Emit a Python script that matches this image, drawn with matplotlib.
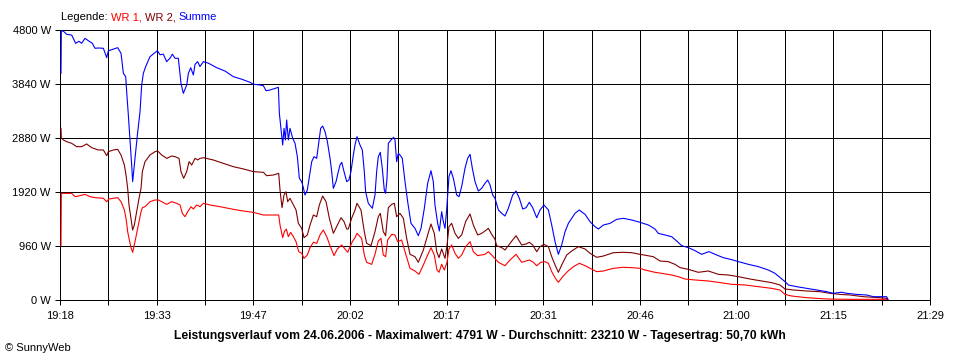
"""
SunnyWeb Leistungsverlauf 24.06.2006 - WR 1, WR 2 und Summe.
"""

import matplotlib
matplotlib.use("AGG")

import matplotlib.pyplot as plt
import numpy as np

# ── Data (minutes after 19:18, watts) ────────────────────────────────────────
SUM_T = [0.15, 0.20, 0.50, 1.00, 1.76, 2.36, 2.86, 3.26, 3.76, 4.27, 4.87, 5.27, 5.77,
         6.53, 7.03, 7.28, 8.03, 8.68, 9.19, 9.54, 9.89, 10.04, 10.29, 10.54, 10.79,
         10.94, 11.29, 11.65, 12.05, 12.30, 12.55, 12.90, 13.55, 14.31, 14.66, 15.06,
         15.56, 16.06, 16.57, 16.92, 17.32, 17.82, 18.22, 18.57, 19.08, 19.33, 19.68,
         20.08, 20.33, 20.73, 21.08, 21.59, 22.34, 23.59, 24.85, 26.10, 27.36, 28.61,
         29.11, 30.12, 30.62, 31.02, 31.62, 32.38, 32.88, 33.03, 33.38, 33.53, 33.73,
         33.93, 34.13, 34.38, 34.63, 35.04, 35.39, 35.74, 36.04, 36.39, 36.64, 36.89,
         37.24, 37.55, 37.90, 38.25, 38.65, 39.05, 39.25, 39.55, 39.91, 40.26, 40.66,
         40.91, 41.16, 41.56, 41.91, 42.16, 42.42, 42.77, 43.17, 43.51, 43.81, 44.17,
         44.42, 44.72, 45.17, 45.52, 45.82, 46.02, 46.42, 47.03, 47.43, 47.68, 47.93,
         48.23, 48.53, 48.83, 49.03, 49.24, 49.44, 49.84, 50.24, 50.44, 50.69, 50.94,
         51.19, 51.54, 51.95, 52.35, 52.85, 53.45, 53.95, 54.36, 54.86, 55.36, 55.86,
         56.21, 56.46, 56.87, 57.12, 57.47, 57.72, 57.97, 58.22, 58.57, 58.87, 59.23,
         59.73, 60.08, 60.48, 60.98, 61.38, 61.74, 62.09, 62.49, 62.99, 63.49, 63.99,
         64.40, 64.75, 65.15, 65.50, 66.01, 66.51, 67.01, 67.51, 68.16, 68.67, 69.17,
         69.67, 70.17, 70.67, 71.18, 71.78, 72.28, 72.88, 73.54, 74.04, 74.54, 75.04,
         75.54, 76.05, 76.55, 77.05, 77.55, 78.20, 79.06, 79.81, 80.56, 81.07, 81.82,
         82.82, 83.83, 84.83, 86.09, 87.34, 88.59, 89.59, 90.09, 91.10, 92.10, 92.86,
         93.61, 94.61, 95.62, 96.62, 97.72, 98.88, 99.88, 101.14, 102.14, 103.65,
         105.15, 106.66, 107.66, 109.17, 109.67, 110.92, 112.43, 113.93, 115.44,
         116.44, 117.70, 118.45, 119.96, 121.46, 122.47, 124.47, 124.72]
SUM_W = [4030, 4783, 4780, 4724, 4710, 4563, 4600, 4563, 4652, 4610, 4563, 4475, 4480,
         4475, 4308, 4430, 4460, 4486, 4385, 4030, 3970, 3703, 3289, 2845, 2400,
         2104, 2519, 2933, 3348, 3822, 4030, 4148, 4326, 4400, 4432, 4360,
         4370, 4237, 4300, 4370, 4297, 4297, 3852, 3674, 3822, 4030, 4130,
         4000, 4190, 4237, 4150, 4237, 4210, 4130, 4070, 3970, 3925, 3870,
         3835, 3822, 3810, 3722, 3733, 3763, 3781, 3319, 2933, 2756, 3052,
         2845, 3200, 2845, 3052, 2874, 2785, 2548, 2163, 2104, 1997, 1867,
         1955, 2193, 2459, 2548, 2518, 2874, 3052, 3093, 2992, 2815, 2518,
         2282, 1985, 2104, 2282, 2400, 2448, 2282, 2104, 2134, 2282, 2578,
         2756, 2904, 2756, 2667, 2282, 1926, 1719, 1630, 1867, 2282, 2548,
         2625, 2341, 1955, 1896, 2163, 2785, 2845, 2893, 2845, 2459, 2608,
         2578, 2518, 2104, 1748, 1363, 1274, 1143, 1274, 1630, 2074, 2299,
         2104, 1689, 1363, 1227, 1570, 1393, 1274, 1600, 2193, 2299, 2163,
         1867, 1837, 2015, 2341, 2518, 2590, 2341, 2104, 1937, 1985, 2074,
         2133, 2045, 1867, 1808, 1600, 1541, 1493, 1630, 1867, 1937, 1808,
         1618, 1640, 1737, 1640, 1463, 1600, 1689, 1600, 1333, 1037, 812,
         978, 1215, 1363, 1452, 1541, 1600, 1522, 1393, 1304, 1262, 1333,
         1363, 1434, 1452, 1422, 1381, 1333, 1262, 1185, 1156, 1126, 1049,
         966, 931, 877, 812, 860, 800, 753, 717, 682, 634,
         593, 533, 474, 326, 267, 237, 207, 178, 148,
         119, 138, 119, 100, 89, 59, 59, 0]

WR2_T = [0.15, 0.20, 0.50, 1.00, 1.76, 2.51, 3.26, 4.02, 4.77, 5.77, 6.53, 7.03, 7.28,
         8.03, 8.68, 9.19, 9.69, 9.94, 10.19, 10.39, 10.69, 10.94, 11.19, 11.55, 11.90,
         12.20, 12.40, 12.80, 13.55, 14.31, 14.71, 15.31, 16.06, 16.82, 17.32, 17.92,
         18.22, 18.62, 19.08, 19.43, 19.83, 20.33, 20.73, 21.08, 21.59, 23.09, 24.59,
         26.10, 27.61, 29.11, 30.62, 31.12, 32.12, 32.93, 33.13, 33.43, 33.73, 34.03,
         34.28, 34.63, 35.14, 35.54, 35.89, 36.39, 36.74, 37.24, 37.65, 38.15, 38.65,
         39.05, 39.55, 40.06, 40.56, 41.16, 41.66, 42.31, 42.77, 43.17, 43.41, 43.91,
         44.42, 44.72, 45.32, 45.82, 46.17, 46.83, 47.43, 47.93, 48.23, 48.68, 49.03,
         49.44, 49.94, 50.34, 50.69, 51.19, 51.70, 52.20, 52.70, 53.45, 53.95, 54.71,
         55.36, 55.86, 56.36, 56.72, 57.07, 57.47, 57.97, 58.27, 58.57, 58.97, 59.48,
         59.98, 60.48, 61.08, 61.74, 62.24, 62.89, 63.49, 63.99, 64.50, 65.00, 65.50,
         65.75, 66.51, 67.01, 67.76, 68.67, 69.52, 70.17, 70.67, 71.18, 71.78, 72.28,
         72.88, 73.54, 74.04, 74.54, 75.04, 75.54, 76.30, 77.05, 78.05, 79.06, 79.81,
         80.81, 81.82, 83.32, 84.83, 86.09, 87.34, 89.34, 90.35, 91.60, 92.60, 93.36,
         94.61, 96.12, 97.62, 99.13, 100.64, 102.14, 103.90, 105.66, 107.16, 108.41,
         109.16, 110.42, 112.43, 114.43, 115.94, 117.45, 118.95, 120.96, 123.47,
         124.47, 124.62]
WR2_W = [3052, 2880, 2845, 2815, 2785, 2726, 2726, 2774, 2708, 2667, 2667, 2566, 2637,
         2667, 2679, 2578, 2400, 2222, 1985, 1689, 1452, 1244, 1333, 1570, 1808,
         1985, 2281, 2459, 2578, 2637, 2649, 2578, 2518, 2560, 2548, 2518,
         2282, 2163, 2282, 2459, 2400, 2518, 2490, 2518, 2530, 2489, 2430,
         2370, 2330, 2282, 2270, 2210, 2222, 2252, 1955, 1641, 1867, 1926,
         1748, 1808, 1689, 1600, 1363, 1274, 1108, 1156, 1333, 1511, 1481,
         1689, 1849, 1748, 1452, 1185, 1304, 1463, 1393, 1262, 1262, 1452,
         1600, 1719, 1600, 1215, 1007, 966, 1215, 1481, 1541, 1215, 1143,
         1641, 1700, 1719, 1481, 1541, 1452, 1096, 812, 770, 670, 889,
         1156, 1351, 1185, 860, 753, 907, 741, 966, 1304, 1363, 1185,
         1096, 1156, 1393, 1529, 1333, 1156, 1185, 1227, 1274, 1167, 1078,
         966, 931, 889, 1007, 1143, 978, 996, 1026, 978, 859, 948,
         990, 948, 770, 622, 492, 622, 800, 871, 948, 907, 830,
         759, 782, 841, 848, 841, 812, 770, 693, 682, 634, 575,
         545, 492, 516, 456, 444, 415, 373, 338, 308, 267,
         196, 178, 160, 148, 119, 100, 89, 59, 41,
         30, 0]

WR1_T = [0.15, 0.20, 1.76, 2.26, 3.01, 3.76, 4.52, 5.27, 6.53, 7.03, 7.38, 8.68, 9.19,
         9.69, 9.94, 10.19, 10.44, 10.69, 10.94, 11.19, 11.55, 11.90, 12.20, 12.40,
         12.80, 13.55, 14.31, 14.81, 15.31, 16.06, 16.82, 17.57, 18.07, 18.42, 18.82,
         19.23, 19.73, 20.08, 20.58, 21.08, 21.59, 22.59, 24.09, 26.10, 27.61, 29.11,
         30.62, 32.93, 33.13, 33.53, 33.78, 34.08, 34.38, 34.73, 35.14, 35.54, 35.94,
         36.39, 36.74, 37.24, 37.65, 38.15, 38.65, 39.15, 39.65, 40.16, 40.66, 41.26,
         41.76, 42.42, 42.92, 43.32, 44.01, 44.42, 44.72, 45.42, 45.82, 46.17, 46.93,
         47.43, 47.93, 48.33, 48.68, 49.03, 49.34, 49.94, 50.44, 50.84, 51.44, 51.95,
         52.70, 53.45, 54.05, 54.71, 55.36, 55.86, 56.36, 56.76, 57.07, 57.47, 57.87,
         58.27, 58.57, 58.97, 59.48, 59.98, 60.48, 61.08, 61.74, 62.24, 62.89, 63.49,
         63.99, 64.50, 65.00, 66.01, 67.01, 67.76, 68.67, 69.52, 70.17, 70.67, 71.28,
         71.78, 72.38, 73.03, 73.54, 74.04, 74.54, 75.04, 75.69, 76.40, 77.30, 78.20,
         79.06, 79.81, 80.81, 81.82, 83.32, 84.83, 86.09, 87.34, 88.09, 89.59, 90.60,
         92.10, 93.11, 94.11, 95.62, 97.62, 99.13, 101.14, 103.15, 105.15, 107.16,
         108.41, 109.16, 110.17, 112.43, 115.44, 118.45, 121.46, 124.47]
WR1_W = [966, 1896, 1896, 1837, 1855, 1878, 1837, 1820, 1808, 1748, 1796, 1820, 1748,
         1600, 1452, 1215, 1067, 930, 848, 978, 1185, 1393, 1570, 1641,
         1659, 1748, 1778, 1778, 1748, 1700, 1748, 1719, 1689, 1541, 1481,
         1570, 1659, 1618, 1689, 1659, 1719, 1689, 1659, 1612, 1582, 1558,
         1511, 1511, 1333, 1108, 1215, 1262, 1126, 1203, 1126, 1037, 859,
         830, 741, 800, 930, 1026, 1007, 1156, 1244, 1126, 966, 788,
         907, 978, 907, 848, 1037, 1108, 1185, 1096, 800, 670, 634,
         812, 1049, 1096, 800, 770, 1067, 1167, 1156, 1037, 1067, 859,
         563, 516, 456, 622, 800, 930, 800, 533, 492, 634, 533,
         670, 907, 978, 830, 741, 800, 948, 1037, 859, 788, 800,
         812, 859, 800, 670, 610, 711, 812, 670, 693, 711, 670,
         610, 670, 682, 652, 504, 397, 314, 415, 504, 593, 652,
         610, 563, 504, 516, 563, 581, 575, 563, 533, 492, 474,
         444, 415, 373, 356, 338, 314, 279, 267, 237, 207,
         178, 100, 71, 41, 18, 12, 12, 12]

TIME_LABELS = ["19:18", "19:33", "19:47", "20:02", "20:17", "20:31",
               "20:46", "21:00", "21:15", "21:29"]
Y_TICKS = [0, 960, 1920, 2880, 3840, 4800]
SPAN_MIN = 131  # 19:18 .. 21:29

TITLE = ("Leistungsverlauf vom 24.06.2006 - Maximalwert: 4791 W - "
         "Durchschnitt: 23210 W - Tagesertrag: 50,70 kWh")

# ── Style ───────────────────────────────────────────────────────────────────
C_WR1 = "#ff0000"
C_WR2 = "#800000"
C_SUM = "#0000ff"
FONT = "Liberation Sans"
PX = 0.72  # one pixel in points at dpi 100

plt.rcParams["font.family"] = [FONT, "DejaVu Sans"]

fig = plt.figure(figsize=(9.6, 3.6), dpi=100, facecolor="white")
ax = fig.add_axes([60 / 960, 60 / 360, 870 / 960, 270 / 360])
ax.set_facecolor("white")

for t, w, c in [(WR1_T, WR1_W, C_WR1), (WR2_T, WR2_W, C_WR2), (SUM_T, SUM_W, C_SUM)]:
    ax.plot(t, w, color=c, linewidth=0.8, antialiased=True, zorder=3)

ax.set_xlim(0, SPAN_MIN)
ax.set_ylim(0, 4800)

major = np.linspace(0, SPAN_MIN, len(TIME_LABELS))
minor = np.linspace(0, SPAN_MIN, 2 * len(TIME_LABELS) - 1)
ax.set_xticks(major)
ax.set_xticklabels(TIME_LABELS)
ax.set_xticks(minor, minor=True)
ax.set_yticks(Y_TICKS)
ax.set_yticklabels([f"{v} W" for v in Y_TICKS])

ax.grid(which="both", color="black", linewidth=PX, snap=True)
ax.set_axisbelow(True)
for s in ax.spines.values():
    s.set_color("black")
    s.set_linewidth(PX)

ax.tick_params(which="both", direction="out", length=3.6, width=PX, color="black",
               labelsize=8, labelcolor="black")
ax.tick_params(axis="x", which="both", pad=4)
ax.tick_params(axis="y", pad=3)

# legend line at top
leg = fig.text(61 / 960, 1 - 17 / 360, "Legende: ", fontsize=8, color="black",
               va="center", ha="left")
prev = leg
for label, c in [("WR 1, ", C_WR1), ("WR 2, ", C_WR2), ("Summe", C_SUM)]:
    prev = ax.annotate(label, xy=(1, 0), xycoords=prev, va="bottom", ha="left",
                       fontsize=8, color=c)

fig.text(480 / 960, 1 - 336 / 360, TITLE, fontsize=8.7, fontweight="bold",
         ha="center", va="center", color="black")
fig.text(5 / 960, 1 - 348 / 360, "\u00a9 SunnyWeb", fontsize=8, ha="left",
         va="center", color="black")

fig.savefig("out.png", dpi=100, facecolor="white")
plt.close(fig)
